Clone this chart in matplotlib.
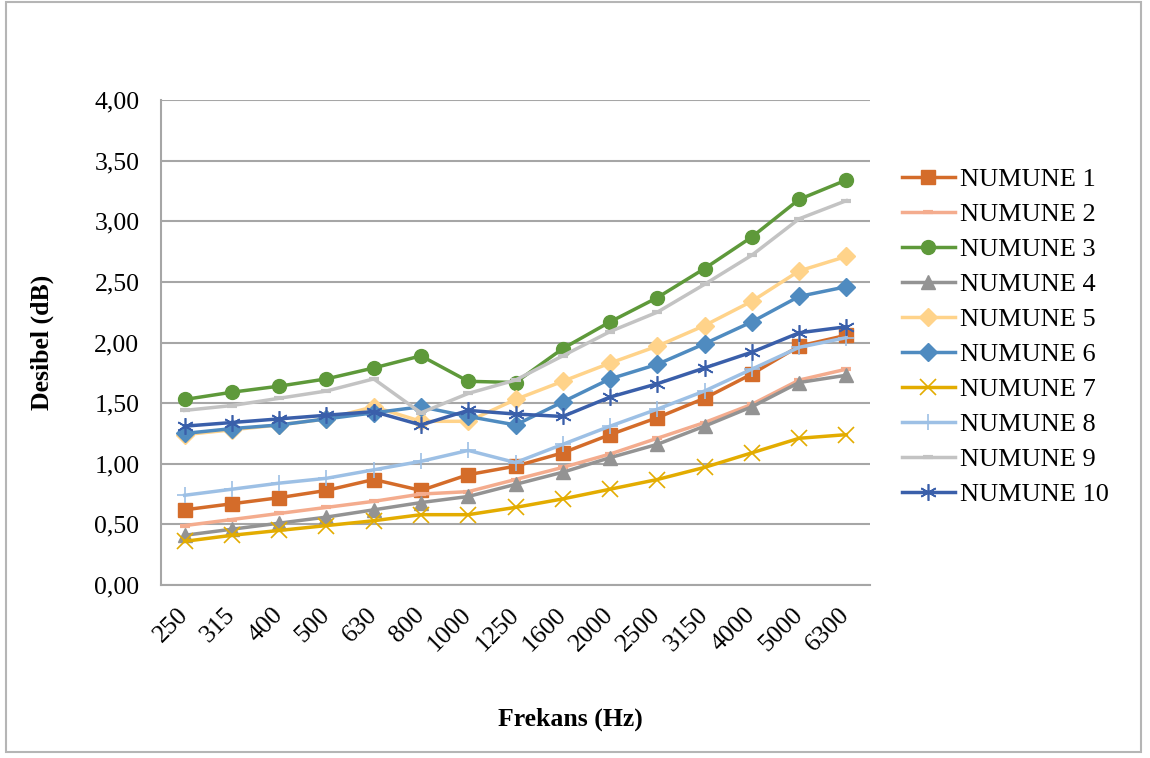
import matplotlib
matplotlib.use("Agg")
import matplotlib.pyplot as plt
from matplotlib.patches import Rectangle

freqs = ["250", "315", "400", "500", "630", "800", "1000", "1250", "1600",
         "2000", "2500", "3150", "4000", "5000", "6300"]

numune1 = [0.62, 0.67, 0.72, 0.78, 0.87, 0.78, 0.91, 0.98, 1.09, 1.24, 1.38, 1.54, 1.74, 1.97, 2.06]
numune2 = [0.49, 0.54, 0.59, 0.64, 0.69, 0.75, 0.77, 0.87, 0.97, 1.08, 1.21, 1.34, 1.49, 1.69, 1.78]
numune3 = [1.53, 1.59, 1.64, 1.70, 1.79, 1.89, 1.68, 1.67, 1.95, 2.17, 2.37, 2.61, 2.87, 3.18, 3.34]
numune4 = [0.41, 0.46, 0.51, 0.56, 0.62, 0.68, 0.73, 0.83, 0.93, 1.05, 1.16, 1.31, 1.47, 1.67, 1.73]
numune5 = [1.24, 1.28, 1.32, 1.37, 1.47, 1.35, 1.35, 1.53, 1.68, 1.83, 1.97, 2.14, 2.34, 2.59, 2.71]
numune6 = [1.25, 1.29, 1.32, 1.37, 1.42, 1.47, 1.39, 1.32, 1.51, 1.70, 1.82, 1.99, 2.17, 2.38, 2.46]
numune7 = [0.36, 0.41, 0.45, 0.49, 0.53, 0.58, 0.58, 0.64, 0.71, 0.79, 0.87, 0.97, 1.09, 1.21, 1.24]
numune8 = [0.74, 0.79, 0.84, 0.88, 0.95, 1.02, 1.11, 1.01, 1.16, 1.31, 1.45, 1.60, 1.78, 1.96, 2.04]
numune9 = [1.44, 1.48, 1.54, 1.60, 1.70, 1.42, 1.58, 1.69, 1.89, 2.09, 2.25, 2.48, 2.72, 3.02, 3.17]
numune10 = [1.31, 1.34, 1.37, 1.40, 1.43, 1.32, 1.44, 1.41, 1.39, 1.55, 1.66, 1.79, 1.92, 2.08, 2.13]

labels = ["NUMUNE 1", "NUMUNE 2", "NUMUNE 3", "NUMUNE 4", "NUMUNE 5",
          "NUMUNE 6", "NUMUNE 7", "NUMUNE 8", "NUMUNE 9", "NUMUNE 10"]
series = [numune1, numune2, numune3, numune4, numune5,
          numune6, numune7, numune8, numune9, numune10]
colors = ["#D46C2A", "#F4AC8E", "#5E993A", "#939393", "#FFD38A",
          "#4F8BC0", "#E3AC00", "#9DC0E5", "#C3C3C3", "#3A5FAA"]
markers = ["s", "_", "o", "^", "D", "D", "x", "+", "_", (6, 2, 0)]
msizes = [10, 7, 10, 10, 9, 9, 11, 12, 7, 12]

plt.rcParams['font.family'] = ['Liberation Serif', 'DejaVu Serif']

fig = plt.figure(figsize=(11.5, 7.58), dpi=100)
W, H = 1150, 758
ax = fig.add_axes([161 / W, 1 - 585 / H, (870 - 161) / W, (585 - 100) / H])

x = list(range(len(freqs)))
for s, lab, c, m, ms in zip(series, labels, colors, markers, msizes):
    mew = 1.2 if m in ("x", "+", (6, 2, 0)) else 1
    if m == "_":
        mew = 3
    ax.plot(x, s, color=c, lw=2.5, marker=m, markersize=ms,
            markerfacecolor=c, markeredgecolor=c, markeredgewidth=mew,
            label=lab, solid_joinstyle='round', zorder=3)

ax.set_xlim(-0.5, len(freqs) - 0.5)
ax.set_ylim(0, 4.0)
yt = [0, 0.5, 1.0, 1.5, 2.0, 2.5, 3.0, 3.5, 4.0]
ax.set_yticks(yt)
ax.set_yticklabels([f"{v:.2f}".replace(".", ",") for v in yt], fontsize=18.5)
ax.set_xticks(x)
ax.set_xticklabels(freqs, rotation=45, fontsize=18.5, ha='right', va='center',
                   rotation_mode='anchor')
ax.tick_params(axis='both', length=0)
ax.tick_params(axis='y', pad=15.5)
ax.tick_params(axis='x', pad=19)
ax.grid(axis='y', color='#A6A6A6', lw=1.5, zorder=0)
for sp in ['top', 'right']:
    ax.spines[sp].set_visible(False)
for sp in ['left', 'bottom']:
    ax.spines[sp].set_color('#A6A6A6')
    ax.spines[sp].set_linewidth(1.5)

fig.text(42 / W, 1 - 342 / H, "Desibel (dB)", rotation=90, fontsize=18.5,
         fontweight='bold', ha='center', va='center')
fig.text(570 / W, 1 - 719 / H, "Frekans (Hz)", fontsize=18.5,
         fontweight='bold', ha='center', va='center')

leg = fig.legend(loc='upper left', bbox_to_anchor=(902 / W, 1 - 168 / H),
                 frameon=False, fontsize=19, handlelength=2.0,
                 handletextpad=0.2, labelspacing=0.435, borderpad=0,
                 borderaxespad=0)

fig.patches.append(Rectangle((6 / W, 1 - 752 / H), (1141 - 6) / W, (752 - 2) / H,
                             transform=fig.transFigure, fill=False,
                             edgecolor='#B5B5B5', lw=1.5))

fig.savefig("out.png", dpi=100)
